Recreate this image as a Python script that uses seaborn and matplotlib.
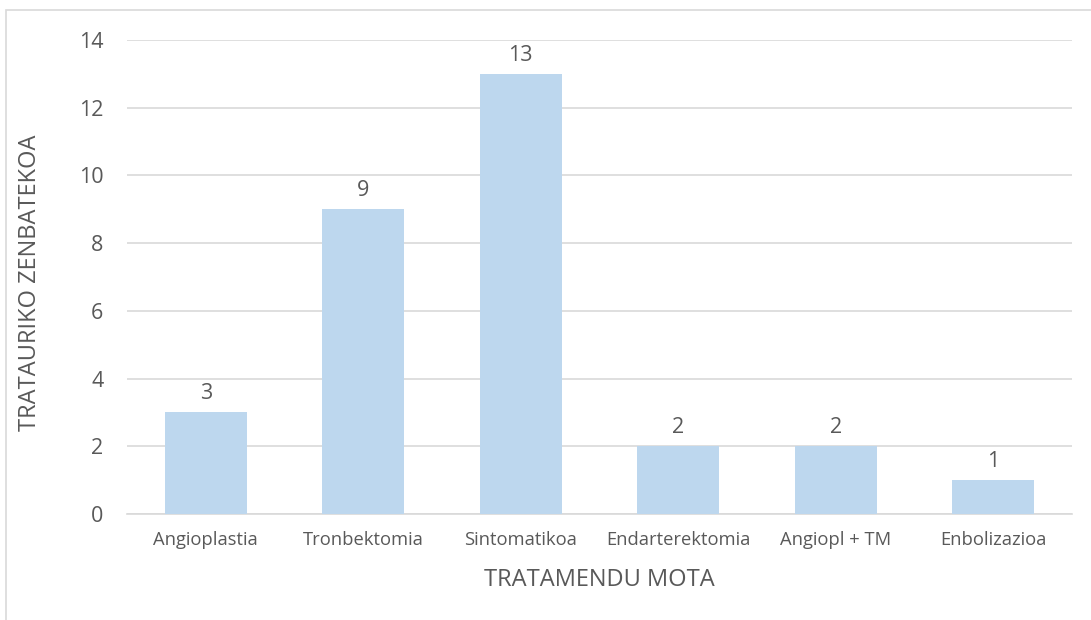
import matplotlib
matplotlib.use("Agg")
import matplotlib.pyplot as plt
import seaborn as sns
import pandas as pd
import numpy as np
from matplotlib.patches import Rectangle

categories = ["Angioplastia", "Tronbektomia", "Sintomatikoa", "Endarterektomia", "Angiopl + TM", "Enbolizazioa"]
values = [3, 9, 13, 2, 2, 1]
yticks = [0, 2, 4, 6, 8, 10, 12, 14]

sns.set_theme(style="white")
plt.rcParams['font.family'] = ['Open Sans', 'DejaVu Sans']

txt = "#595959"
grid = "#D9D9D9"
bar_c = "#BDD7EE"

df = pd.DataFrame({"cat": categories, "val": values})

fig = plt.figure(figsize=(10.91, 6.2), dpi=100)
ax = fig.add_axes([127/1091, 1-514/620, (1072-127)/1091, (514-40)/620])

sns.barplot(data=df, x="cat", y="val", color=bar_c, width=0.52, ax=ax, zorder=3,
            saturation=1, linewidth=0, edgecolor="none")

ax.set_ylim(0, 14)
ax.set_xlim(-0.5, len(categories)-0.5)
ax.set_yticks(yticks)
ax.set_yticklabels([str(t) for t in yticks], color=txt, fontsize=15.5)
ax.tick_params(axis='y', length=0, pad=17)
ax.tick_params(axis='x', which='major', length=0, pad=12, labelsize=13.2, labelcolor=txt)
ax.set_xticks(np.arange(-0.5, len(categories)), minor=True)
ax.tick_params(axis='x', which='minor', length=6, color=grid, width=1.2)
ax.yaxis.grid(True, color=grid, linewidth=1.2, zorder=0)
ax.set_axisbelow(True)
for s in ["top", "right", "left"]:
    ax.spines[s].set_visible(False)
ax.spines["bottom"].set_color(grid)
ax.spines["bottom"].set_linewidth(1.2)

for c in ax.containers:
    ax.bar_label(c, labels=[str(v) for v in values], padding=6, fontsize=15.5, color=txt)

ax.set_xlabel("TRATAMENDU MOTA", fontsize=17, color=txt)
ax.set_ylabel("TRATAURIKO ZENBATEKOA", fontsize=17, color=txt)
ax.xaxis.label.set_va("center")
ax.yaxis.label.set_va("center")
ax.xaxis.set_label_coords(0.5, (514-580)/474)
ax.yaxis.set_label_coords((30-127)/945, (514-283)/474)

fig.patches.append(Rectangle((6/1091, -0.05), 1.2, 1-10/620+0.05, transform=fig.transFigure,
                             fill=False, edgecolor="#D9D9D9", linewidth=1.2))

fig.savefig("out.png", dpi=100)
